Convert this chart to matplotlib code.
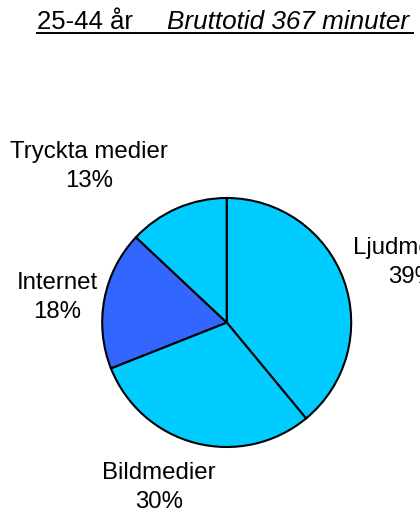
import matplotlib
matplotlib.use("Agg")
import matplotlib.pyplot as plt
from matplotlib.lines import Line2D

# Data
categories = ["Ljudmedier", "Bildmedier", "Internet", "Tryckta medier"]
values = [39, 30, 18, 13]
pct_labels = ["39%", "30%", "18%", "13%"]
title_left = "25-44 år"
title_right = "Bruttotid 367 minuter"

colors = ["#00CCFF", "#00CCFF", "#3366FF", "#00CCFF"]

W, H = 420, 513
DPI = 100
plt.rcParams['font.family'] = ['Liberation Sans', 'DejaVu Sans']
fig = plt.figure(figsize=(W / DPI, H / DPI), dpi=DPI)
fig.patch.set_facecolor("white")

# pie axes placement (pixels)
cx, cy, r = 226.7, 322.5, 124.5
ax = fig.add_axes([(cx - r) / W, (H - cy - r) / H, 2 * r / W, 2 * r / H])
ax.pie(values, colors=colors, startangle=90, counterclock=False, radius=1,
       wedgeprops=dict(edgecolor="black", linewidth=1.5))
ax.set_xlim(-1, 1)
ax.set_ylim(-1, 1)
ax.set_aspect("auto")
ax.axis("off")

# label anchor positions (pixels: center x, last-line baseline y)
label_px = [(412, 283), (159, 508), (57.5, 318), (89, 187)]
for cat, pct, (px, py) in zip(categories, pct_labels, label_px):
    ax.text((px - cx) / r, (cy - py) / r, f"{cat}\n{pct}", ha="center",
            va="baseline", fontsize=17.3, linespacing=1.4, clip_on=False,
            multialignment="center")

# Title
ty = (H - 29) / H
fig.text(37 / W, ty, title_left, fontsize=18.5, ha="left", va="baseline")
fig.text(167 / W, ty, title_right, fontsize=18.8, style="italic",
         ha="left", va="baseline")
fig.add_artist(Line2D([37 / W, 413 / W], [(H - 33) / H, (H - 33) / H],
                      transform=fig.transFigure, color="black", linewidth=1.4))

fig.savefig("out.png", dpi=DPI)
